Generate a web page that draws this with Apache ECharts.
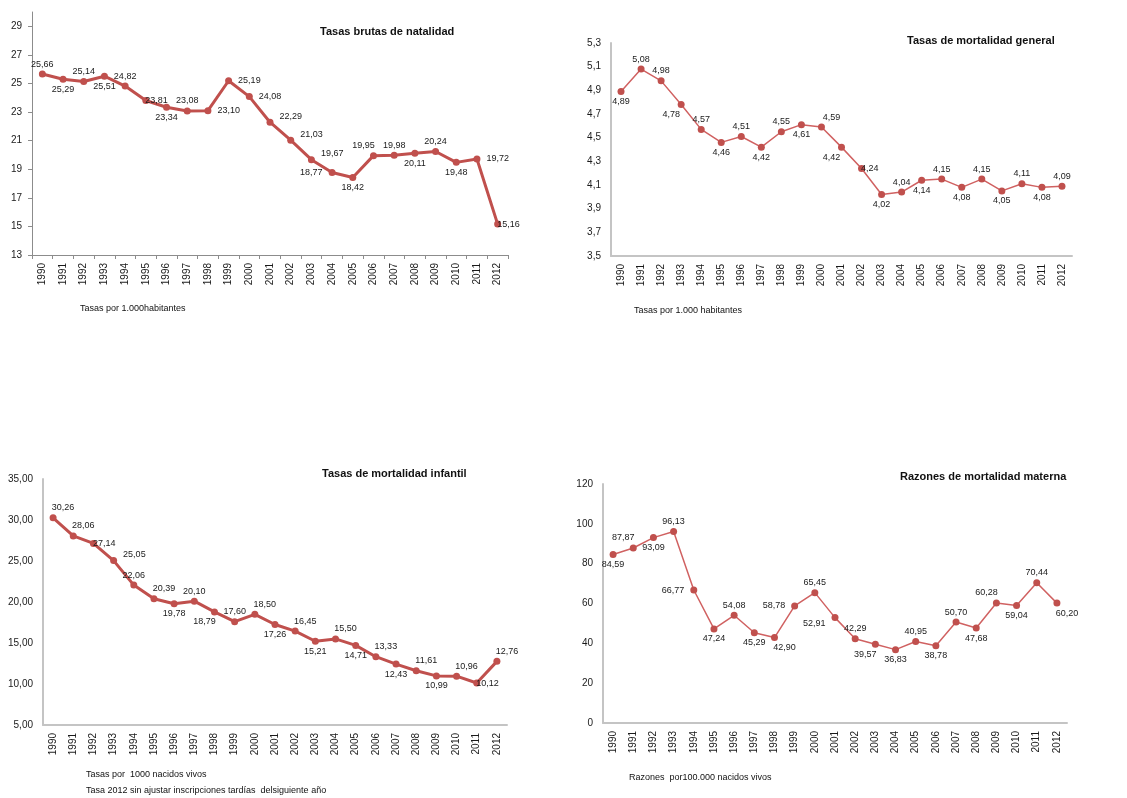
<!DOCTYPE html>
<html>
<head>
<meta charset="utf-8">
<script src="https://cdn.jsdelivr.net/npm/echarts@6/dist/echarts.min.js"></script>
<style>
  html, body { margin: 0; padding: 0; background: #fff; }
  #chart { width: 1127px; height: 798px; }
</style>
</head>
<body>
<div id="chart"></div>
<script>
// datos 1990 - 2012
var years = ['1990', '1991', '1992', '1993', '1994', '1995', '1996', '1997', '1998', '1999', '2000', '2001',
    '2002', '2003', '2004', '2005', '2006', '2007', '2008', '2009', '2010', '2011', '2012'];

var natalidad = [25.66, 25.29, 25.14, 25.51, 24.82, 23.81, 23.34, 23.08, 23.10, 25.19, 24.08, 22.29,
    21.03, 19.67, 18.77, 18.42, 19.95, 19.98, 20.11, 20.24, 19.48, 19.72, 15.16];
var mortGeneral = [4.89, 5.08, 4.98, 4.78, 4.57, 4.46, 4.51, 4.42, 4.55, 4.61, 4.59, 4.42,
    4.24, 4.02, 4.04, 4.14, 4.15, 4.08, 4.15, 4.05, 4.11, 4.08, 4.09];
var mortInfantil = [30.26, 28.06, 27.14, 25.05, 22.06, 20.39, 19.78, 20.10, 18.79, 17.60, 18.50, 17.26,
    16.45, 15.21, 15.50, 14.71, 13.33, 12.43, 11.61, 10.99, 10.96, 10.12, 12.76];
var mortMaterna = [84.59, 87.87, 93.09, 96.13, 66.77, 47.24, 54.08, 45.29, 42.90, 58.78, 65.45, 52.91,
    42.29, 39.57, 36.83, 40.95, 38.78, 50.70, 47.68, 60.28, 59.04, 70.44, 60.20];

// donde va cada etiqueta (t arriba, b abajo, r derecha, l izquierda...)
var posNatalidad = ['t', 'b', 't', 'b', 't', 'o', 'b', 't', 'r', 'r', 'r', 'ru', 'ru', 'ru', 'l', 'b', 'tl', 't', 'b', 't', 'b', 'r', 'o'];
var posGeneral = ['b', 't', 't', 'bl', 't', 'b', 't', 'b', 't', 'b', 'tr', 'bl', 'o', 'b', 't', 'b', 't', 'b', 't', 'b', 't', 'b', 't'];
var posInfantil = ['tr', 'tr', 'o', 'ru', 't', 'tr', 'b', 't', 'bl', 't', 'tr', 'b', 'tr', 'b', 'tr', 'b', 'tr', 'b', 'tr', 'b', 'tr', 'o', 'tr'];
var posMaterna = ['b', 'tl', 'b', 't', 'l', 'b', 't', 'b', 'br', 'l', 't', 'ld', 't', 'bl', 'b', 't', 'b', 't', 'b', 'tl', 'b', 't', 'br'];

var FONT = 'Liberation Sans';
var RED = '#C0504D';

function coma(v, d) {
    return v.toFixed(d).replace('.', ',');
}

function labelFor(code) {
    var l = { show: true, position: 'top', distance: 2 };
    if (code == 'b') l.position = 'bottom';
    if (code == 'r') { l.position = 'right'; l.distance = 6; }
    if (code == 'l') { l.position = 'left'; l.distance = 6; }
    if (code == 'ru') { l.position = 'right'; l.distance = 6; l.offset = [0, -6]; }
    if (code == 'ld') { l.position = 'left'; l.distance = 6; l.offset = [0, 6]; }
    if (code == 'o') { l.position = 'right'; l.distance = -4; }
    if (code == 'tr') l.offset = [10, 0];
    if (code == 'tl') l.offset = [-10, 0];
    if (code == 'br') { l.position = 'bottom'; l.offset = [10, 0]; }
    if (code == 'bl') { l.position = 'bottom'; l.offset = [-10, 0]; }
    return l;
}

function puntos(vals, pos) {
    return vals.map(function (v, i) {
        return { value: v, label: labelFor(pos[i]) };
    });
}

function serie(idx, vals, pos, thick) {
    return {
        type: 'line',
        xAxisIndex: idx,
        yAxisIndex: idx,
        data: puntos(vals, pos),
        symbol: 'circle',
        symbolSize: thick ? 7 : 7,
        lineStyle: { color: thick ? RED : '#D06161', width: thick ? 3 : 1.5 },
        itemStyle: { color: RED },
        label: {
            fontFamily: FONT, fontSize: 9, color: '#1a1a1a',
            formatter: function (p) { return coma(p.value, 2); }
        },
        animation: false
    };
}

function ejeX(idx, ticks) {
    return {
        type: 'category',
        gridIndex: idx,
        data: years,
        boundaryGap: true,
        axisLine: { lineStyle: { color: ticks ? '#8c8c8c' : '#c4c4c4', width: ticks ? 1 : 2 } },
        axisTick: { show: ticks, length: 4, lineStyle: { color: '#8c8c8c' } },
        axisLabel: { rotate: 90, margin: 8, fontFamily: FONT, fontSize: 10, color: '#1a1a1a', interval: 0 }
    };
}

function ejeY(idx, min, max, step, dec, ticks) {
    return {
        type: 'value',
        gridIndex: idx,
        min: min,
        max: max,
        interval: step,
        splitLine: { show: false },
        axisLine: { show: true, lineStyle: { color: ticks ? '#8c8c8c' : '#c4c4c4', width: ticks ? 1 : 2 } },
        axisTick: { show: ticks, length: 4, lineStyle: { color: '#8c8c8c' } },
        axisLabel: {
            margin: 10, fontFamily: FONT, fontSize: 10, color: '#1a1a1a', showMaxLabel: max == 30 ? false : true,
            formatter: function (v) { return coma(v, dec); }
        }
    };
}

function titulo(text, left, top, size, bold) {
    return {
        text: text, left: left, top: top, padding: 0,
        textStyle: { fontFamily: FONT, fontSize: size, fontWeight: bold ? 'bold' : 'normal', color: '#111' }
    };
}

var mychart = echarts.init(document.getElementById('chart'));
var option = {
    backgroundColor: '#fff',
    animation: false,
    title: [
        titulo('Tasas brutas de natalidad', 320, 26, 11, true),
        titulo('Tasas de mortalidad general', 907, 35, 11, true),
        titulo('Tasas de mortalidad infantil', 322, 468, 11, true),
        titulo('Razones de mortalidad materna', 900, 471, 11, true),
        titulo('Tasas por 1.000habitantes', 80, 304, 9, false),
        titulo('Tasas por 1.000 habitantes', 634, 306, 9, false),
        titulo('Tasas por  1000 nacidos vivos', 86, 770, 9, false),
        titulo('Tasa 2012 sin ajustar inscripciones tardías  delsiguiente año', 86, 786, 9, false),
        titulo('Razones  por100.000 nacidos vivos', 629, 773, 9, false)
    ],
    grid: [
        { left: 32, top: 12, width: 476, height: 243 },
        { left: 611, top: 43, width: 461, height: 213 },
        { left: 43, top: 479, width: 464, height: 246 },
        { left: 603, top: 484, width: 464, height: 239 }
    ],
    xAxis: [ejeX(0, true), ejeX(1, false), ejeX(2, false), ejeX(3, false)],
    yAxis: [
        ejeY(0, 13, 30, 2, 0, true),
        ejeY(1, 3.5, 5.3, 0.2, 1, false),
        ejeY(2, 5, 35, 5, 2, false),
        ejeY(3, 0, 120, 20, 0, false)
    ],
    series: [
        serie(0, natalidad, posNatalidad, true),
        serie(1, mortGeneral, posGeneral, false),
        serie(2, mortInfantil, posInfantil, true),
        serie(3, mortMaterna, posMaterna, false)
    ]
};
mychart.setOption(option);
</script>
</body>
</html>
